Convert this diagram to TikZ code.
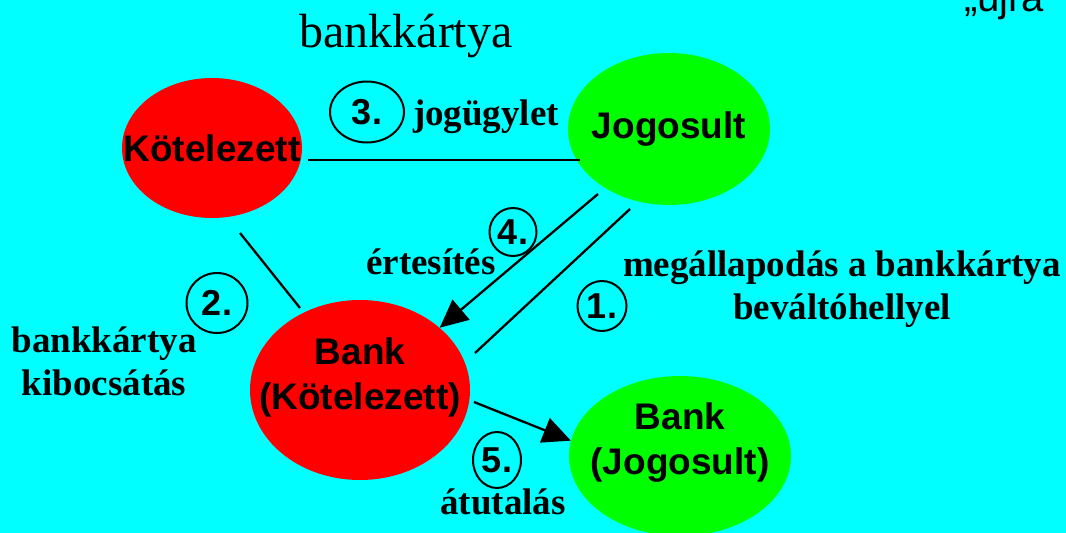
\documentclass[tikz,border=0pt]{standalone}
\usepackage{fontspec}
\setmainfont{Liberation Serif}
\setsansfont{Liberation Sans}
\usetikzlibrary{shapes.geometric,arrows.meta}
\definecolor{bgcyan}{RGB}{0,255,255}
\definecolor{nred}{RGB}{255,0,0}
\definecolor{ngreen}{RGB}{0,255,0}
\tikzset{
  party/.style={ellipse, draw=none, inner sep=0pt},
  nodetext/.style={font=\sffamily\bfseries\fontsize{37}{45}\selectfont, align=center, inner sep=0pt},
  numcirc/.style={ellipse, draw=black, line width=2pt, inner sep=0pt},
  numtext/.style={font=\sffamily\bfseries\fontsize{36}{40}\selectfont, inner sep=0pt},
  lbl/.style={font=\rmfamily\bfseries\fontsize{37}{43}\selectfont, align=center, inner sep=0pt},
  conn/.style={line width=2.3pt, draw=black},
  arr/.style={conn, -{Triangle[length=28pt,width=26pt]}}
}
\begin{document}
\begin{tikzpicture}[x=1pt,y=-1pt]
\useasboundingbox (0,0) rectangle (1066,533);
\fill[bgcyan] (0,0) rectangle (1066,533);

% title and cropped top-right text
\node[font=\rmfamily\fontsize{48}{54}\selectfont, inner sep=0pt] (title) at (406,36) {bankkártya};
\node[font=\sffamily\fontsize{40}{46}\selectfont, inner sep=0pt, anchor=base west] (ujra) at (964,11) {„újra};

% parties
\node[party, fill=nred, minimum width=180pt, minimum height=140pt] (kot) at (212,148) {};
\node[nodetext] at (kot) {Kötelezett};
\node[party, fill=ngreen, minimum width=202pt, minimum height=152pt] (jog) at (669,129) {};
\node[nodetext] at (jog) {Jogosult};
\node[party, fill=nred, minimum width=220pt, minimum height=180pt] (bk) at (360,390) {};
\node[nodetext] at ([yshift=13pt]bk.center) {Bank\\(Kötelezett)};
\node[party, fill=ngreen, minimum width=222pt, minimum height=160pt] (bj) at (680,456) {};
\node[nodetext] at ([yshift=13pt]bj.center) {Bank\\(Jogosult)};

% connector end points
\coordinate (c3a) at (308,160);
\coordinate (c3b) at (580,160);
\coordinate (c2a) at (240,233);
\coordinate (c2b) at (300,308);
\coordinate (c4a) at (598,194);
\coordinate (c1a) at (630,209);
\coordinate (c1b) at (475,353);
\coordinate (c5a) at (474,402);

\draw[conn] (c3a) -- (c3b);
\draw[conn] (c2a) -- (c2b);
\draw[arr] (c4a) -- (bk.38);
\draw[conn] (c1a) -- (c1b);
\draw[arr] (c5a) -- (bj.172);

% numbered circles
\node[numcirc, minimum width=74pt, minimum height=61pt] (n3) at (367,112) {};
\node[numtext] at (n3) {3.};
\node[numcirc, minimum width=47pt, minimum height=48pt] (n4) at (513,232) {};
\node[numtext] at (n4) {4.};
\node[numcirc, minimum width=49pt, minimum height=50pt] (n1) at (602,306) {};
\node[numtext] at (n1) {1.};
\node[numcirc, minimum width=61pt, minimum height=60pt] (n2) at (217,303) {};
\node[numtext] at (n2) {2.};
\node[numcirc, minimum width=48pt, minimum height=56pt] (n5) at (497,460) {};
\node[numtext] at (n5) {5.};

% labels
\node[lbl] (l3) at (486,117) {jogügylet};
\node[lbl] (l4) at (431,262) {értesítés};
\node[lbl] (l1) at (842,289) {megállapodás a bankkártya\\beváltóhellyel};
\node[lbl] (l2) at (104,361) {bankkártya\\kibocsátás};
\node[lbl] (l5) at (503,502) {átutalás};
\end{tikzpicture}
\end{document}
